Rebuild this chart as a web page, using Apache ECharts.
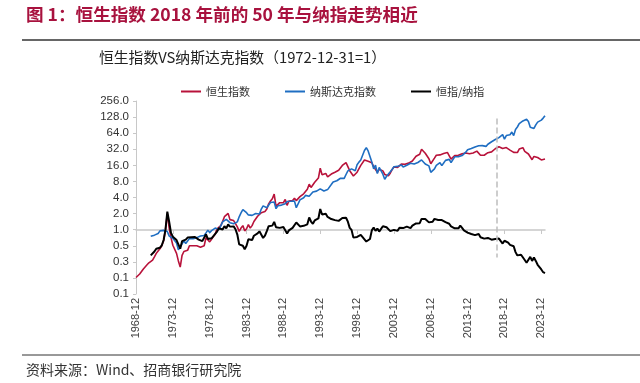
<!DOCTYPE html>
<html><head><meta charset="utf-8">
<script src="https://cdn.jsdelivr.net/npm/echarts/dist/echarts.min.js"></script>
<style>html,body{margin:0;padding:0;background:#fff}#c{width:640px;height:383px}</style>
</head><body><div id="c"></div>
<script>
// Quarter-end categories from 1968-12 to 2024-06
const categories = [];
categories.push('1968-12');
for (let y = 1969; y <= 2024; y++) {
  for (const m of ['03','06','09','12']) {
    if (y === 2024 && (m === '09' || m === '12')) continue;
    categories.push(y + '-' + m);
  }
}
const yTicks = [0.0625,0.125,0.25,0.5,1,2,4,8,16,32,64,128,256];

// 恒生指数 (1972-12-31=1)
const hsi = [0.127,
 0.136,0.148,0.154,0.184, 0.20,0.22,0.24,0.25, 0.27,0.31,0.36,0.40, 0.44,0.50,0.62,1.0,
 2.0,1.07,0.71,0.51, 0.50,0.36,0.26,0.20, 0.33,0.39,0.36,0.41, 0.50,0.49,0.50,0.53,
 0.50,0.49,0.47,0.48, 0.50,0.71,0.66,0.59, 0.66,0.74,0.83,1.04, 1.07,1.19,1.42,1.75,
 1.66,2.02,1.54,1.67, 1.48,1.30,1.13,0.93, 1.07,1.19,0.95,1.04, 1.24,1.07,1.19,1.42,
 1.54,1.78,1.84,2.08, 1.96,2.19,2.43,3.04, 3.44,3.79,4.62,2.73, 2.85,3.20,2.96,3.19,
 3.68,2.85,3.44,3.36, 3.50,3.85,3.50,3.59, 4.15,4.39,4.68,5.09, 5.69,7.11,6.17,6.54,
 7.71,8.30,9.25,14.1, 10.7,10.4,11.3,9.71, 10.3,11.0,11.4,11.9, 12.9,12.9,13.9,15.9,
 15.2,18.0,17.8,12.7, 13.6,10.1,9.37,11.9, 12.9,16.0,15.1,20.1, 20.6,19.1,18.5,17.9,
 15.2,15.4,11.8,13.5, 13.0,12.6,10.8,11.05, 10.2,11.4,13.3,14.9, 15.1,14.6,15.5,16.9,
 16.0,16.8,18.3,17.6, 18.7,19.3,20.7,23.7, 23.5,25.8,32.1,33.0, 27.0,26.2,21.3,17.1,
 16.1,21.8,24.7,25.9, 25.1,23.8,26.6,27.3, 27.9,26.6,20.9,21.9, 24.4,23.0,24.7,26.9,
 26.4,24.7,27.2,27.6, 26.3,27.5,27.2,28.0, 29.5,31.1,24.7,26.0, 24.7,24.7,27.6,26.1,
 28.6,30.6,32.7,35.5, 35.7,34.3,33.0,30.6, 34.4,33.9,30.9,33.4, 28.0,28.9,27.8,32.3,
 33.6,34.2,29.1,27.7, 26.1,25.9,20.4,23.5, 24.1,22.4,21.1,20.2, 19.6,21.0];

// 纳斯达克指数 (1972-12-31=1)
const nasdaq = [null,null,null,null,null,null,null,null,0.75,
 0.80,0.79,0.82,0.85, 0.95,0.99,0.97,1.00,
 0.92,0.76,0.82,0.69, 0.68,0.56,0.42,0.45, 0.54,0.62,0.55,0.58, 0.68,0.68,0.68,0.73,
 0.71,0.75,0.76,0.79, 0.78,0.87,0.98,0.88, 0.96,0.98,1.07,1.13, 1.01,1.18,1.40,1.51,
 1.56,1.62,1.35,1.46, 1.29,1.28,1.40,1.74, 2.06,2.38,2.22,2.08, 1.89,1.76,1.85,1.85,
 2.01,2.09,1.97,2.43, 2.79,2.83,2.58,2.61, 3.23,3.18,3.30,2.47, 2.80,2.96,2.88,2.85,
 3.05,3.37,3.55,3.40, 3.25,3.45,2.57,2.80, 3.61,3.56,3.95,4.38, 4.51,4.21,4.36,5.06,
 5.16,5.26,5.71,5.81, 5.56,5.28,5.71,5.62, 6.11,6.98,7.81,7.87, 8.23,8.86,9.17,9.65,
 9.14,10.78,12.6,11.74, 13.72,14.17,12.67,16.4, 18.4,20.1,20.5,30.4, 34.2,29.7,27.5,18.5,
 13.76,16.2,11.2,14.6, 13.8,10.9,8.76,10.0, 10.0,12.1,13.4,15.0, 14.9,15.3,14.2,16.3,
 14.95,15.4,16.1,16.5, 17.5,16.2,16.9,18.1, 18.1,19.5,20.2,19.8, 17.0,17.1,15.6,11.8,
 11.4,13.7,15.9,17.0, 17.9,15.8,17.7,19.8, 20.8,20.7,18.1,19.5, 23.1,21.9,23.3,22.6,
 24.4,25.4,28.2,31.2, 31.4,33.0,33.6,35.4, 36.6,37.3,34.5,37.4, 36.4,36.2,39.7,40.3,
 44.2,45.9,48.6,51.6, 52.8,56.2,60.2,49.6, 57.8,59.9,59.8,67.1, 57.6,75.2,83.5,96.4,
 99.1,108.5,108.0,117, 106.3,82.5,79.1,78.3, 91.4,103.1,98.8,112.2, 122.5,136];

// 恒指/纳指
const ratio = [null,null,null,null,null,null,null,null,0.33,
 0.34,0.39,0.44,0.47, 0.46,0.51,0.64,1.0,
 2.17,1.41,0.87,0.74, 0.74,0.64,0.62,0.44, 0.61,0.63,0.65,0.71, 0.74,0.72,0.74,0.73,
 0.70,0.65,0.62,0.61, 0.64,0.82,0.67,0.67, 0.69,0.76,0.78,0.92, 1.06,1.01,1.01,1.16,
 1.06,1.25,1.14,1.14, 1.15,1.02,0.81,0.53, 0.52,0.50,0.43,0.50, 0.66,0.61,0.64,0.77,
 0.77,0.85,0.93,0.86, 0.70,0.77,0.94,1.16, 1.07,1.19,1.40,1.11, 1.02,1.08,1.03,1.12,
 1.21,0.85,0.97,0.99, 1.08,1.12,1.36,1.28, 1.15,1.23,1.18,1.16, 1.26,1.69,1.42,1.29,
 1.49,1.58,1.62,2.43, 1.92,1.97,1.98,1.73, 1.69,1.58,1.46,1.51, 1.57,1.46,1.52,1.65,
 1.66,1.67,1.41,1.08, 0.99,0.71,0.74,0.73, 0.70,0.80,0.74,0.66, 0.60,0.64,0.67,0.97,
 1.10,0.95,1.05,0.92, 0.94,1.16,1.23,1.11, 1.02,0.94,0.99,0.99, 1.01,0.95,1.09,1.04,
 1.07,1.09,1.14,1.07, 1.07,1.19,1.22,1.31, 1.30,1.32,1.59,1.67, 1.59,1.53,1.37,1.45,
 1.41,1.59,1.55,1.52, 1.40,1.51,1.50,1.38, 1.34,1.29,1.15,1.12, 1.06,1.05,1.06,1.19,
 1.08,0.97,0.96,0.88, 0.84,0.83,0.81,0.79, 0.81,0.83,0.72,0.70, 0.68,0.68,0.70,0.65,
 0.65,0.67,0.67,0.69, 0.68,0.61,0.55,0.62, 0.60,0.57,0.52,0.50, 0.49,0.38,0.33,0.34,
 0.34,0.32,0.27,0.24, 0.25,0.31,0.26,0.30, 0.26,0.22,0.21,0.18, 0.16,0.154];

const seriesNames = ['恒生指数','纳斯达克指数','恒指/纳指'];
const markCategory = '2017-12';

const chart = echarts.init(document.getElementById('c'), null, {renderer:'canvas'});
const cjk = '"Noto Sans CJK SC", sans-serif';
const latin = '"Liberation Sans", Arial, sans-serif';
const showEvery20 = function(i){ return i % 20 === 0; };

chart.setOption({
  animation: false,
  backgroundColor: '#fff',
  grid: {left: 136, right: 95, top: 101, bottom: 89, containLabel: false},
  legend: {
    data: seriesNames, top: 81, left: 176, itemWidth: 20, itemHeight: 2, itemGap: 35,
    icon: 'rect',
    textStyle: {fontSize: 11, color: '#333', fontFamily: cjk}
  },
  graphic: [
    {type:'text', left: 26, top: 6, style:{text:'图 1：恒生指数 2018 年前的 50 年与纳指走势相近', font:'bold 17.6px "Noto Sans CJK SC", sans-serif', fill:'#A8123E'}},
    {type:'line', shape:{x1:22,y1:40,x2:640,y2:40}, style:{stroke:'#333', lineWidth:1.5}},
    {type:'text', left: 99, top: 50, style:{text:'恒生指数VS纳斯达克指数（1972-12-31=1）', font:'14.8px "Noto Sans CJK SC", sans-serif', fill:'#222'}},
    {type:'line', shape:{x1:22,y1:355,x2:640,y2:355}, style:{stroke:'#333', lineWidth:1}},
    {type:'text', left: 26, top: 363, style:{text:'资料来源：Wind、招商银行研究院', font:'14px "Noto Sans CJK SC", sans-serif', fill:'#333'}}
  ],
  xAxis: [{
    type: 'category', data: categories, boundaryGap: false,
    axisLine: {show: false}, axisTick: {show: false}, splitLine: {show: false},
    axisLabel: {interval: showEvery20, rotate: 90, fontSize: 11, color: '#404040', fontFamily: latin, margin: 4}
  }, {
    type: 'category', data: categories, boundaryGap: false, position: 'bottom', offset: -64,
    axisLine: {show: true, lineStyle: {color: '#c8c8c8', width: 1.5}},
    axisTick: {show: true, interval: showEvery20, length: 4, lineStyle: {color: '#c8c8c8'}},
    axisLabel: {show: false}, splitLine: {show: false}
  }],
  yAxis: {
    type: 'log', logBase: 2, min: yTicks[0], max: yTicks[yTicks.length-1], interval: 1,
    axisLine: {show: true, lineStyle: {color: '#c8c8c8'}},
    axisTick: {show: true, length: 3, lineStyle: {color: '#c8c8c8'}},
    splitLine: {show: false},
    axisLabel: {fontSize: 11.5, color: '#333', fontFamily: latin, margin: 7,
      formatter: function(v){ return Number(v).toFixed(1); }}
  },
  series: [
    {name: seriesNames[0], type: 'line', data: hsi, symbol: 'none', xAxisIndex: 0,
     lineStyle: {color: '#B8123A', width: 1.6}, itemStyle: {color: '#B8123A'}},
    {name: seriesNames[1], type: 'line', data: nasdaq, symbol: 'none', xAxisIndex: 0,
     lineStyle: {color: '#1F6EC2', width: 1.6}, itemStyle: {color: '#1F6EC2'},
     markLine: {silent: true, symbol: 'none', label: {show: false},
       lineStyle: {color: '#bdbdbd', type: 'dashed', width: 1.5},
       data: [[{coord: [markCategory, 120]}, {coord: [markCategory, 0.3]}]]}},
    {name: seriesNames[2], type: 'line', data: ratio, symbol: 'none', xAxisIndex: 0,
     lineStyle: {color: '#000', width: 2}, itemStyle: {color: '#000'}}
  ]
});
</script></body></html>
